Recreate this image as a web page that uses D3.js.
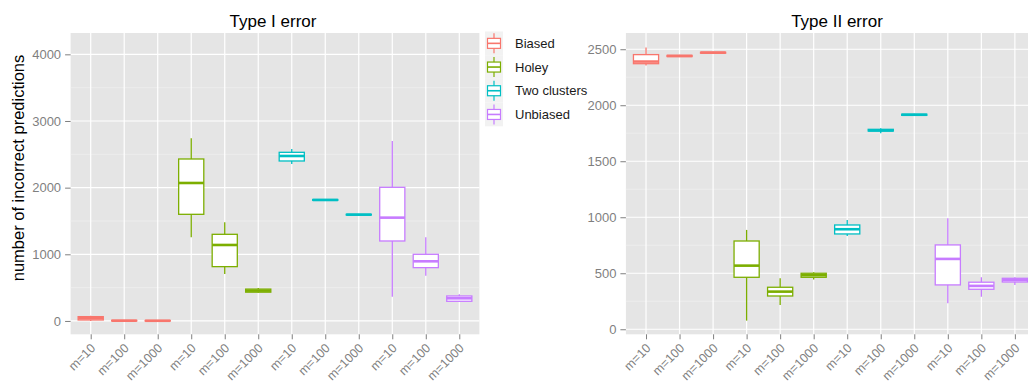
<!DOCTYPE html>
<html><head><meta charset="utf-8">
<script src="https://cdn.jsdelivr.net/npm/d3@7"></script>
<style>
html,body{margin:0;padding:0;background:#fff;}
svg{display:block;font-family:"Liberation Sans",Arial,Helvetica,sans-serif;}
</style></head>
<body><svg id="chart" width="1028" height="383"></svg>
<script>
// ---- data ----
const groups = ["Biased", "Holey", "Two clusters", "Unbiased"];
const mLabels = ["m=10", "m=100", "m=1000"];
const colors = ["#F8766D", "#7CAE00", "#00BFC4", "#C77CFF"];
// each entry: [lower whisker, q1, median, q3, upper whisker] for m=10, m=100, m=1000
const type1Biased      = [[0, 15, 40, 65, 80], [0, 1, 4, 9, 14], [0, 0, 3, 7, 10]];
const type1Holey       = [[1255, 1600, 2070, 2430, 2740], [705, 815, 1140, 1300, 1480], [420, 432, 455, 478, 495]];
const type1TwoClusters = [[2355, 2400, 2475, 2530, 2580], [1800, 1810, 1815, 1822, 1830], [1585, 1590, 1595, 1600, 1605]];
const type1Unbiased    = [[365, 1200, 1550, 2005, 2700], [680, 800, 895, 1000, 1255], [290, 295, 340, 375, 400]];
const type2Biased      = [[2354, 2371, 2390, 2452, 2515], [2430, 2435, 2440, 2445, 2450], [2462, 2465, 2470, 2473, 2478]];
const type2Holey       = [[77, 464, 568, 788, 887], [217, 297, 336, 375, 455], [445, 464, 482, 500, 510]];
const type2TwoClusters = [[833, 851, 893, 931, 976], [1750, 1770, 1775, 1785, 1795], [1905, 1910, 1915, 1920, 1925]];
const type2Unbiased    = [[232, 396, 628, 753, 991], [291, 357, 387, 420, 464], [395, 422, 440, 455, 465]];
const type1MajorTicks = [0, 1000, 2000, 3000, 4000];
const type1MinorTicks = [500, 1500, 2500, 3500];
const type2MajorTicks = [0, 500, 1000, 1500, 2000, 2500];
const type2MinorTicks = [250, 750, 1250, 1750, 2250];

const svg = d3.select("#chart");
const keys = [];
groups.forEach(g => mLabels.forEach(m => keys.push(g + "|" + m)));

function flatten(arrs) {
  const out = [];
  arrs.forEach((a, gi) => a.forEach((s, mi) => out.push({key: groups[gi] + "|" + mLabels[mi], gi, s})));
  return out;
}

function drawPanel(o) {
  const top = 33, bottom = 334.3;
  const x = d3.scalePoint().domain(keys).range([o.x0, o.x1]).padding(0.6);
  const y = d3.scaleLinear().domain(o.yDomain).range([bottom, top]);
  const g = svg.append("g");
  g.append("rect").attr("x", o.x0).attr("y", top).attr("width", o.x1 - o.x0).attr("height", bottom - top).attr("fill", "#E5E5E5");
  g.selectAll(".minor").data(o.minor).enter().append("line")
    .attr("x1", o.x0).attr("x2", o.x1).attr("y1", d => y(d)).attr("y2", d => y(d))
    .attr("stroke", "#F2F2F2").attr("stroke-width", 0.6);
  g.selectAll(".major").data(o.major).enter().append("line")
    .attr("x1", o.x0).attr("x2", o.x1).attr("y1", d => y(d)).attr("y2", d => y(d))
    .attr("stroke", "#FFFFFF").attr("stroke-width", 1.2);
  g.selectAll(".vgrid").data(keys).enter().append("line")
    .attr("x1", d => x(d)).attr("x2", d => x(d)).attr("y1", top).attr("y2", bottom)
    .attr("stroke", "#FFFFFF").attr("stroke-width", 1.2);

  const bw = x.step() * 0.75;
  const data = flatten(o.data);
  const bx = g.selectAll(".box").data(data).enter().append("g");
  bx.append("line").attr("x1", d => x(d.key)).attr("x2", d => x(d.key))
    .attr("y1", d => y(d.s[4])).attr("y2", d => y(d.s[3]))
    .attr("stroke", d => colors[d.gi]).attr("stroke-width", 1.3);
  bx.append("line").attr("x1", d => x(d.key)).attr("x2", d => x(d.key))
    .attr("y1", d => y(d.s[1])).attr("y2", d => y(d.s[0]))
    .attr("stroke", d => colors[d.gi]).attr("stroke-width", 1.3);
  bx.append("rect").attr("x", d => x(d.key) - bw / 2).attr("width", bw)
    .attr("y", d => y(d.s[3])).attr("height", d => Math.max(0.5, y(d.s[1]) - y(d.s[3])))
    .attr("fill", "#fff").attr("stroke", d => colors[d.gi]).attr("stroke-width", 1.3);
  bx.append("line").attr("x1", d => x(d.key) - bw / 2).attr("x2", d => x(d.key) + bw / 2)
    .attr("y1", d => y(d.s[2])).attr("y2", d => y(d.s[2]))
    .attr("stroke", d => colors[d.gi]).attr("stroke-width", 2.6);

  // axes
  const ya = g.append("g").attr("transform", `translate(${o.x0},0)`)
    .call(d3.axisLeft(y).tickValues(o.major).tickSize(5.5).tickPadding(4).tickFormat(d3.format("d")));
  ya.select(".domain").remove();
  ya.selectAll("line").attr("stroke", "#7F7F7F").attr("stroke-width", 1);
  ya.selectAll("text").attr("fill", "#7F7F7F").style("font-size", "13px").style("font-family", "Liberation Sans, Arial, sans-serif");

  const xa = g.append("g").attr("transform", `translate(0,${bottom})`)
    .call(d3.axisBottom(x).tickSize(5).tickFormat(d => d.split("|")[1]));
  xa.select(".domain").remove();
  xa.selectAll("line").attr("stroke", "#7F7F7F").attr("stroke-width", 1);
  xa.selectAll("text").attr("fill", "#7F7F7F").style("font-size", "12.5px")
    .style("font-family", "Liberation Sans, Arial, sans-serif")
    .attr("text-anchor", "end").attr("y", 0).attr("dy", 0)
    .attr("transform", "translate(5,14.5) rotate(-45)");

  svg.append("text").attr("x", o.titleX).attr("y", 26.5).attr("text-anchor", "middle")
    .style("font-size", "17px").attr("fill", "#000").text(o.title);
}

drawPanel({x0: 70.6, x1: 479.4, yDomain: [-200, 4320], major: type1MajorTicks, minor: type1MinorTicks,
  data: [type1Biased, type1Holey, type1TwoClusters, type1Unbiased], title: "Type I error", titleX: 273});
drawPanel({x0: 625.9, x1: 1035, yDomain: [-45, 2645], major: type2MajorTicks, minor: type2MinorTicks,
  data: [type2Biased, type2Holey, type2TwoClusters, type2Unbiased], title: "Type II error", titleX: 837});

// y axis title
svg.append("text").attr("transform", "translate(24,168) rotate(-90)").attr("text-anchor", "middle")
  .style("font-size", "16.5px").attr("fill", "#000").text("number of incorrect predictions");

// legend
const lg = svg.append("g");
const keyH = 23.7, ly0 = 31.5;
groups.forEach((name, i) => {
  const cy = ly0 + keyH * i + keyH / 2;
  lg.append("rect").attr("x", 485).attr("y", ly0 + keyH * i).attr("width", 18).attr("height", keyH).attr("fill", "#F2F2F2");
  lg.append("line").attr("x1", 494).attr("x2", 494).attr("y1", cy - 10).attr("y2", cy + 10)
    .attr("stroke", colors[i]).attr("stroke-width", 1.2);
  lg.append("rect").attr("x", 487.5).attr("y", cy - 5).attr("width", 13).attr("height", 10)
    .attr("fill", "#fff").attr("stroke", colors[i]).attr("stroke-width", 1.2);
  lg.append("line").attr("x1", 487.5).attr("x2", 500.5).attr("y1", cy).attr("y2", cy)
    .attr("stroke", colors[i]).attr("stroke-width", 1.6);
  lg.append("text").attr("x", 515).attr("y", cy).attr("dy", "0.35em")
    .style("font-size", "13px").attr("fill", "#1a1a1a").text(name);
});
</script></body></html>
